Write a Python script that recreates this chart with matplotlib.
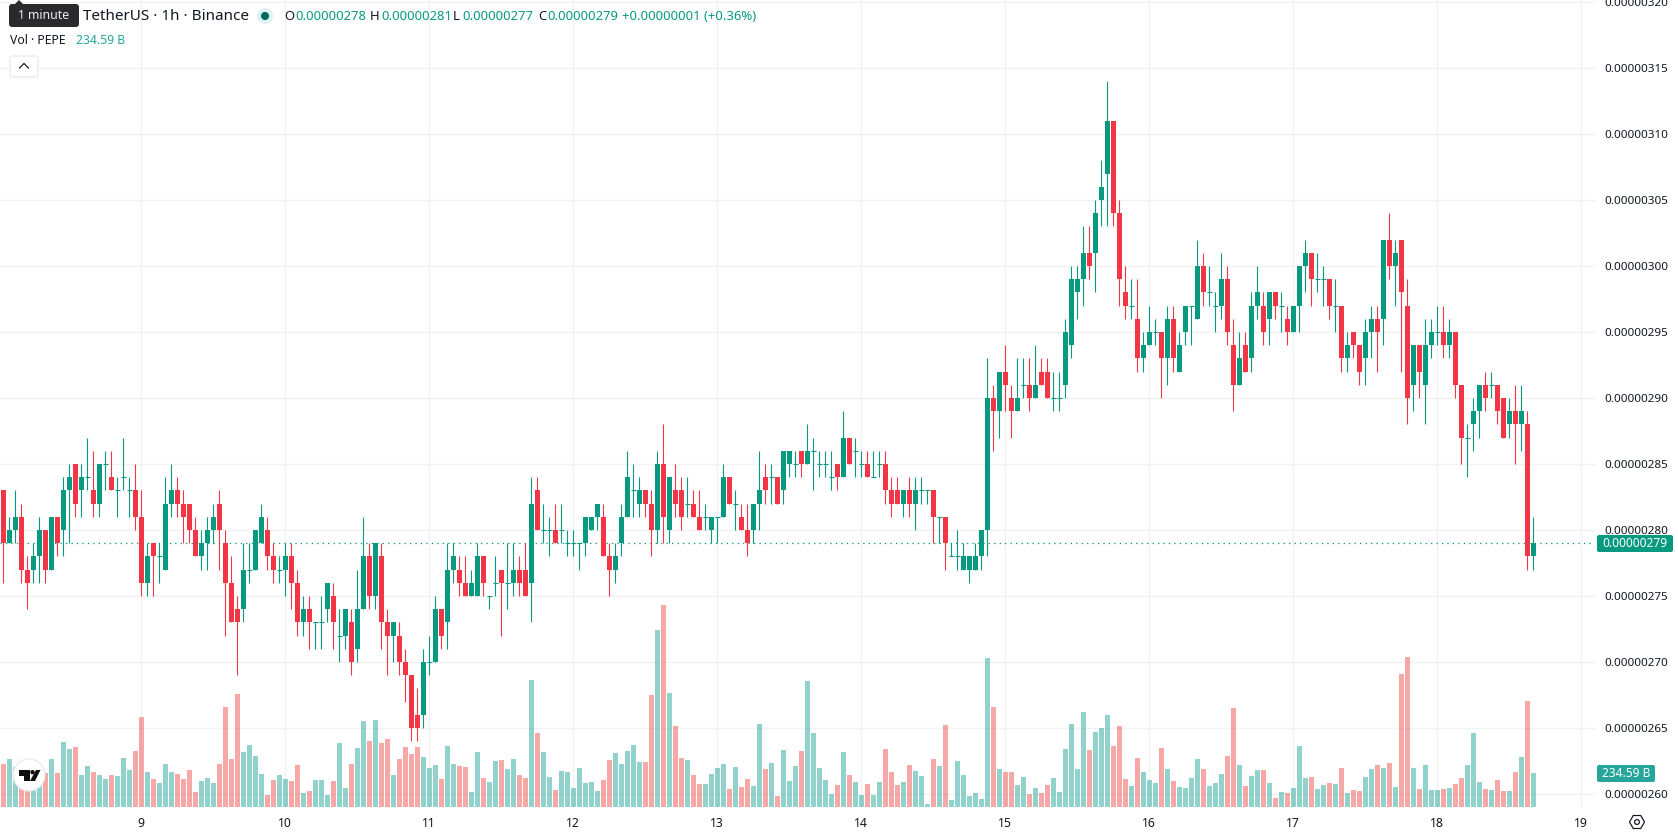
import matplotlib
matplotlib.use("Agg")
import matplotlib.pyplot as plt
from matplotlib.patches import Circle, FancyBboxPatch, Polygon, RegularPolygon
from matplotlib.transforms import Affine2D, blended_transform_factory

# hourly PEPE/USDT candles, prices in units of 0.00000001
opens = [283,279,280,281,277,277,278,280,277,281,
         280,283,285,283,284,283,282,285,284,283,
         284,283,283,281,276,279,278,277,282,283,
         282,282,280,278,279,280,282,279,276,274,
         274,277,277,279,280,278,277,277,278,276,
         273,274,273,273,274,275,272,272,273,271,
         274,278,275,278,273,272,272,270,269,266,
         266,270,270,274,273,277,277,276,275,275,
         278,275,276,277,276,276,277,277,276,283,
         280,280,280,280,279,279,279,279,280,281,
         281,278,277,279,281,283,282,283,282,280,
         285,280,283,283,282,282,281,281,280,281,
         281,284,282,281,280,280,282,284,284,284,
         283,285,285,286,285,286,285,285,284,285,
         284,287,286,285,285,284,285,285,283,283,
         282,283,282,283,283,283,281,281,278,278,
         277,277,277,278,280,290,289,292,290,289,
         291,291,290,292,292,290,290,291,294,298,
         299,301,301,305,307,311,304,298,297,296,
         293,294,295,295,293,296,292,295,297,296,
         300,298,297,297,299,294,291,294,293,297,
         297,296,298,297,296,295,297,300,301,299,
         299,299,297,297,293,295,294,293,295,296,
         296,302,300,302,297,291,294,291,294,295,
         295,294,295,291,287,288,289,291,291,291,
         290,288,289,288,288,278]
highs = [283,281,283,282,278,279,281,280,281,281,
         284,285,285,285,287,286,285,286,286,284,
         287,284,285,283,279,279,279,284,285,284,
         283,282,281,280,281,282,283,280,278,275,
         279,279,280,282,281,279,278,279,279,277,
         275,275,273,275,276,276,274,274,274,277,
         281,279,279,279,274,273,273,271,269,268,
         271,272,275,274,279,279,278,278,277,279,
         278,275,278,277,279,279,278,279,284,284,
         282,281,282,282,280,280,279,281,281,282,
         282,279,279,282,286,285,284,283,283,286,
         288,284,285,284,284,283,283,282,281,281,
         285,284,283,282,282,282,286,285,285,284,
         286,286,286,286,288,287,286,286,286,285,
         289,287,287,286,286,286,286,286,284,284,
         283,284,284,284,283,283,281,281,279,280,
         279,278,279,280,293,291,292,294,291,293,
         293,293,294,293,293,292,292,296,300,300,
         303,303,305,308,314,311,305,300,299,299,
         295,297,296,295,297,297,295,297,297,302,
         301,300,298,301,300,296,295,295,298,300,
         298,298,298,298,297,297,300,302,301,301,
         300,299,299,297,295,295,294,296,297,297,
         302,304,302,302,299,294,294,296,296,297,
         297,296,295,291,288,290,291,292,292,291,
         290,290,291,291,289,281]
lows = [276,279,279,276,274,276,276,276,277,278,
        278,279,281,281,283,281,281,283,283,281,
        283,281,280,275,275,275,276,277,281,281,
        279,279,278,277,277,279,277,272,273,269,
        273,276,277,279,277,276,276,275,274,272,
        272,271,271,271,273,271,270,271,269,270,
        274,274,274,271,269,270,269,267,264,264,
        265,269,270,271,271,276,275,275,275,275,
        275,274,275,272,274,275,275,275,273,280,
        279,278,279,279,278,278,277,278,280,280,
        278,275,276,278,281,281,281,281,278,279,
        279,279,281,280,281,281,280,280,279,279,
        281,282,280,280,278,279,280,282,282,282,
        282,284,284,284,285,283,284,284,283,283,
        284,285,284,284,284,284,284,282,281,282,
        281,281,280,282,282,279,279,277,278,277,
        277,276,277,277,278,286,287,289,287,289,
        290,289,290,291,290,289,289,290,293,296,
        297,299,298,303,303,303,297,296,296,292,
        292,294,294,290,291,292,292,294,294,296,
        297,297,295,296,294,289,291,292,292,296,
        294,294,296,295,294,295,295,298,297,298,
        297,296,295,292,292,293,291,291,293,292,
        294,299,297,292,288,289,290,288,293,294,
        293,293,290,285,284,286,287,289,290,288,
        287,287,285,286,277,277]
closes = [279,280,281,277,276,278,280,277,281,279,
          283,284,282,284,284,282,285,285,283,283,
          284,283,281,276,278,278,278,282,283,282,
          281,280,278,279,280,281,280,276,273,273,
          277,277,280,281,278,277,277,278,276,273,
          274,273,273,273,276,273,272,274,270,274,
          278,275,279,273,272,273,270,269,265,265,
          270,270,274,272,277,278,276,275,276,278,
          276,275,276,276,276,277,276,275,282,280,
          280,280,279,280,279,279,279,281,281,282,
          278,277,278,281,284,283,283,282,280,285,
          281,284,282,281,282,281,280,281,281,281,
          284,282,282,280,279,282,283,283,284,282,
          286,286,285,285,286,286,285,285,284,284,
          287,285,286,285,284,284,285,283,282,282,
          283,282,283,283,283,281,281,279,278,278,
          278,278,278,280,290,289,292,291,289,290,
          291,290,291,291,290,290,290,295,299,299,
          301,300,304,306,311,304,299,297,297,293,
          294,295,295,293,296,293,294,297,297,300,
          298,298,297,299,295,291,293,292,297,298,
          295,298,297,297,295,297,300,301,299,299,
          299,297,297,293,294,294,292,295,296,295,
          302,300,301,298,290,294,292,294,295,295,
          294,295,291,287,287,289,291,290,291,289,
          287,289,288,289,278,279]
# volume in billions of PEPE
volumes = [297,331,276,219,230,230,288,235,331,235,
           449,400,414,221,283,242,221,193,221,214,
           338,255,386,621,242,193,166,297,242,228,
           193,255,104,179,200,166,297,690,331,780,
           380,428,352,228,83,186,221,193,179,290,
           97,110,186,186,83,179,442,131,297,407,
           593,455,600,442,469,221,331,414,366,414,
           345,269,290,193,421,297,283,276,104,380,
           200,173,317,324,262,331,221,200,876,511,
           380,207,117,248,242,131,269,166,173,110,
           186,324,373,297,386,428,311,311,773,1221,
           1394,787,559,338,324,221,159,159,228,269,
           297,124,276,138,193,145,573,262,304,76,
           393,179,283,386,869,511,269,186,90,152,
           380,221,173,83,159,83,173,400,242,152,
           173,290,248,214,21,331,283,566,48,317,
           221,76,97,55,1028,690,262,242,242,152,
           207,90,131,97,152,200,104,400,573,262,
           656,393,518,545,635,421,559,193,145,338,
           242,186,166,407,262,179,138,131,200,331,
           262,145,166,228,352,683,290,145,214,255,
           255,166,62,104,97,131,421,200,207,124,
           152,166,159,269,97,117,110,207,262,290,
           269,304,138,918,1035,269,124,290,117,117,
           124,131,159,200,290,511,173,124,117,186,
           110,110,242,345,731,234.59]

day_labels = ["9", "10", "11", "12", "13", "14", "15", "16", "17", "18", "19"]
price_ticks = list(range(260, 325, 5))
last_price = 279

UP = "#089981"
DOWN = "#F23645"
VOL_UP = "#26A69A"
VOL_DOWN = "#EF5350"
GRID = "#F0F1F3"
TEXT = "#131722"
FONT = "Noto Sans"
PX = 0.72  # one pixel in points at dpi 100
VOL_TOP = 5568

plt.rcParams["font.family"] = FONT

fig = plt.figure(figsize=(16.78, 8.35), dpi=100, facecolor="white")
ax = fig.add_axes([0, 28 / 835, 1595 / 1678, 807 / 835])
for side in ax.spines.values():
    side.set_visible(False)

idx = list(range(len(opens)))
ax.set_axisbelow(True)
ax.grid(True, color=GRID, linewidth=1.3 * PX)

# day ticks, the first midnight is candle 23
day_pos = [23 + 24 * k for k in range(len(day_labels))]
ax.set_xticks(day_pos, day_labels)
ax.set_yticks(price_ticks, [f"{p / 1e8:.8f}" for p in price_ticks])
ax.yaxis.tick_right()
ax.tick_params(axis="x", length=0, labelsize=8.8, labelcolor=TEXT, pad=7)
ax.tick_params(axis="y", length=0, labelsize=8.4, labelcolor=TEXT, pad=7)
ax.get_xticklabels()[6].set_fontweight("bold")

# volume sits on the bottom edge with its own scale
vol_trans = Affine2D().scale(1, 1 / VOL_TOP) + blended_transform_factory(ax.transData, ax.transAxes)
vol_colors = [VOL_UP if c >= o else VOL_DOWN for o, c in zip(opens, closes)]
ax.bar(idx, volumes, width=5 / 6, color=vol_colors, alpha=0.5, linewidth=0, transform=vol_trans, zorder=2)

ax.axhline(last_price, color=UP, linewidth=PX * 1.3, linestyle=(0, (1, 3.2)), zorder=3)

colors = [UP if c >= o else DOWN for o, c in zip(opens, closes)]
ax.vlines(idx, lows, highs, colors=colors, linewidth=PX * 1.1, zorder=4)
bottoms = [min(o, c) for o, c in zip(opens, closes)]
heights = [abs(o - c) for o, c in zip(opens, closes)]
ax.bar(idx, heights, bottom=bottoms, width=5 / 6, color=colors, linewidth=0, zorder=5)
# no body when open equals close, just a dash
doji = [i for i in idx if opens[i] == closes[i]]
ax.hlines([opens[i] for i in doji], [i - 0.42 for i in doji], [i + 0.42 for i in doji],
          colors=UP, linewidth=PX * 1.1, zorder=5)

ax.set_xlim(-0.55, 265.28)
ax.set_ylim(259.02, 320.15)

# chart furniture, laid out in pixels on top of everything
ui = fig.add_axes([0, 0, 1, 1], zorder=10)
ui.set_xlim(0, 1678)
ui.set_ylim(835, 0)
ui.axis("off")
ui.patch.set_alpha(0)


def label(x, y, s, color=TEXT, size=9.4, ha="left", **kw):
    ui.text(x, y, s, color=color, fontsize=size, ha=ha, va="center", **kw)


def box(x0, y0, x1, y1, color, r=2):
    ui.add_patch(FancyBboxPatch((x0 + r, y0 + r), x1 - x0 - 2 * r, y1 - y0 - 2 * r,
                                boxstyle=f"round,pad={r},rounding_size={r}", fc=color, ec="none"))


# legend row
label(83, 16, "TetherUS · 1h · Binance", size=11)
ui.add_patch(Circle((265, 16), 8, fc="#DDF1EE", ec="none"))
ui.add_patch(Circle((265, 16), 4, fc="#00695C", ec="none"))
label(284, 16, "O")
label(295, 16, "0.00000278", color=UP)
label(370, 16, "H")
label(381, 16, "0.00000281", color=UP)
label(453, 16, "L")
label(462, 16, "0.00000277", color=UP)
label(538, 16, "C")
label(547, 16, "0.00000279", color=UP)
label(622, 16, "+0.00000001 (+0.36%)", color=UP)
label(10, 40, "Vol · PEPE", size=8.8)
label(76, 40, "234.59 B", color=VOL_UP, size=8.8)

# tooltip with its little pointer
box(9, 4, 79, 27, "#2A2A2C", r=3)
ui.add_patch(Polygon([(14, 5), (19, 0), (24, 5)], fc="#2A2A2C", ec="none"))
label(44, 15.5, "1 minute", color="#EDEDED", ha="center", size=8.8)

# collapse button
ui.add_patch(FancyBboxPatch((12, 58), 24, 17, boxstyle="round,pad=2,rounding_size=2", fc="white", ec="#E0E3EB", lw=PX))
ui.plot([19.5, 24, 28.5], [68, 63.5, 68], color=TEXT, lw=PX * 1.2)

# price scale tags
box(1597, 535, 1673, 552, UP)
label(1635, 543.5, "0.00000279", color="white", ha="center", size=8.6)
box(1597, 765, 1655, 782, VOL_UP)
label(1626, 773.5, "234.59 B", color="white", ha="center", size=8.6)

# logo badge
ui.add_patch(Circle((29, 775), 16, fc="white", ec="#E8E8E8", lw=PX * 1.2, zorder=3))
ui.add_patch(Polygon([(19, 770), (29.5, 770), (29.5, 781), (24, 781), (24, 775.5), (19, 775.5)], fc="#0F0F0F", ec="none", zorder=4))
ui.add_patch(Circle((32.5, 772.2), 2.2, fc="#0F0F0F", ec="none", zorder=4))
ui.add_patch(Polygon([(36, 770), (40.5, 770), (35, 781), (30, 781)], fc="#0F0F0F", ec="none", zorder=4))

# settings icon
ui.add_patch(RegularPolygon((1637, 822), 6, radius=7.5, orientation=3.14159 / 2, fc="none", ec=TEXT, lw=PX * 1.2))
ui.add_patch(Circle((1637, 822), 2.4, fc="none", ec=TEXT, lw=PX * 1.2))

fig.savefig("out.png", dpi=100)
